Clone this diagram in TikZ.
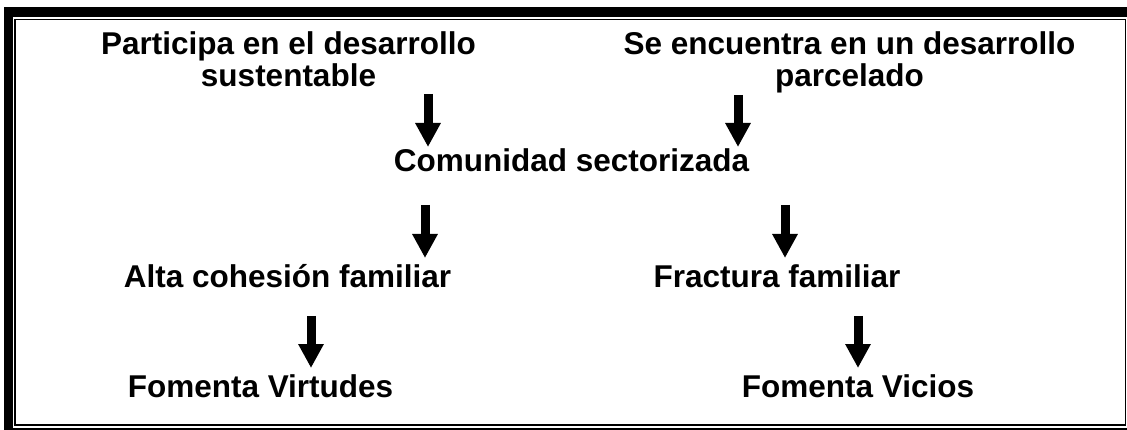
\documentclass[tikz,border=0pt]{standalone}
\usepackage{fontspec}
\setmainfont{Liberation Sans}
\usetikzlibrary{arrows.meta}
\tikzset{
  lbl/.style={font=\fontsize{31.5}{32}\selectfont\bfseries, inner sep=0pt, anchor=base, align=center},
  blockarrow/.style={line width=9pt, -{Triangle[width=24pt,length=24pt]}}
}
\begin{document}
\begin{tikzpicture}[x=1pt,y=-1pt]
\useasboundingbox (0,0) rectangle (1127,430);
% frame
\fill[black] (4,7) rectangle (1127,17);
\fill[black] (4,7) rectangle (13,430);
\draw[line width=1.6pt] (15,19.5) -- (1125.5,19.5) -- (1125.5,425) -- (15,425) -- cycle;
\draw[line width=2pt] (13,428.5) -- (1127,428.5);
% texts (base = baseline of the last line)
\node[lbl] (p1) at (288.5,87) {Participa en el desarrollo\\sustentable};
\node[lbl] (p2) at (849.5,87) {Se encuentra en un desarrollo\\parcelado};
\node[lbl] (c) at (571.5,172) {Comunidad sectorizada};
\node[lbl] (a) at (287.5,288) {Alta cohesión familiar};
\node[lbl] (f) at (777,288) {Fractura familiar};
\node[lbl] (v1) at (260.5,397) {Fomenta Virtudes};
\node[lbl] (v2) at (858,397) {Fomenta Vicios};
% arrow coordinates
\coordinate (a1s) at (428,94);  \coordinate (a1e) at (428,147);
\coordinate (a2s) at (738,95);  \coordinate (a2e) at (738,147);
\coordinate (a3s) at (425,205); \coordinate (a3e) at (425,258);
\coordinate (a4s) at (785,205); \coordinate (a4e) at (785,258);
\coordinate (a5s) at (311,316); \coordinate (a5e) at (311,368);
\coordinate (a6s) at (858,316); \coordinate (a6e) at (858,368);
\draw[blockarrow] (a1s) -- (a1e);
\draw[blockarrow] (a2s) -- (a2e);
\draw[blockarrow] (a3s) -- (a3e);
\draw[blockarrow] (a4s) -- (a4e);
\draw[blockarrow] (a5s) -- (a5e);
\draw[blockarrow] (a6s) -- (a6e);
\end{tikzpicture}
\end{document}
